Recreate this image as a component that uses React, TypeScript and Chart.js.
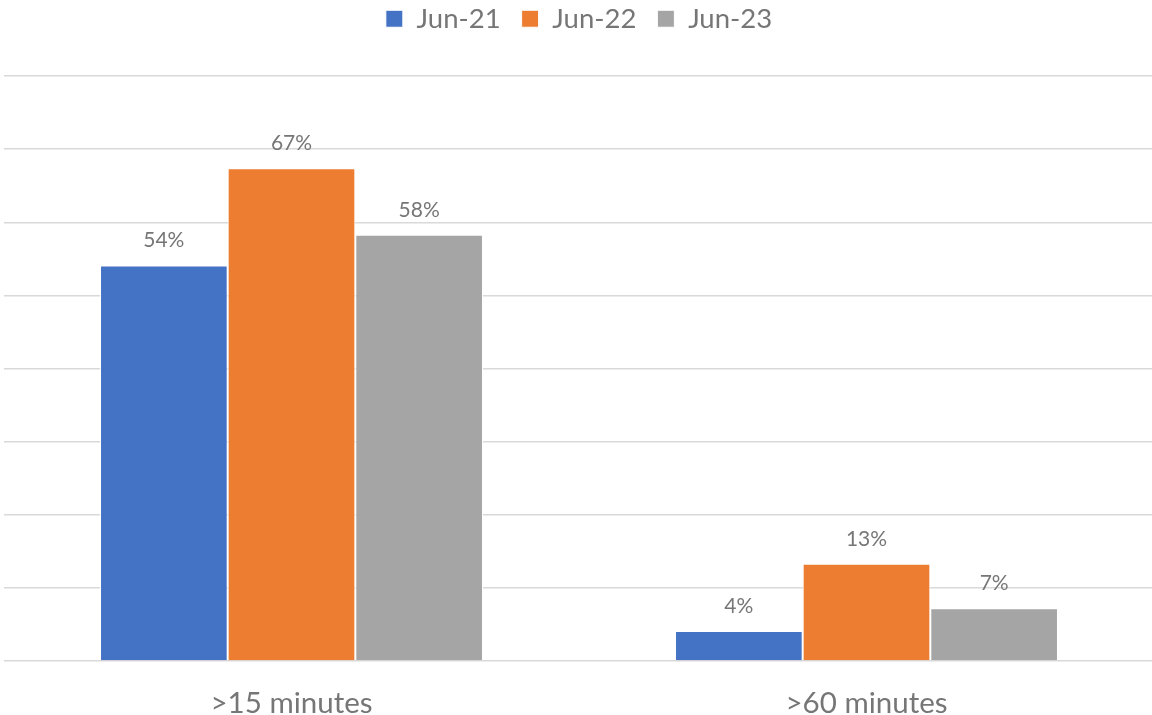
import React, { useEffect, useRef } from "react";
import { Chart, registerables } from "chart.js";

Chart.register(...registerables);

const categories = [">15 minutes", ">60 minutes"];
const seriesNames = ["Jun-21", "Jun-22", "Jun-23"];
const jun21 = [54.1, 4.1];
const jun22 = [67.4, 13.3];
const jun23 = [58.3, 7.2];
const colors = ["#4472C4", "#ED7D31", "#A5A5A5"];
const yTicks = [0, 10, 20, 30, 40, 50, 60, 70, 80];

const FONT = "Lato, 'Open Sans', sans-serif";
const TEXT = "#767676";

const dataLabelPlugin = {
  id: "dataLabels",
  afterDatasetsDraw(chart: any) {
    const ctx = chart.ctx;
    ctx.save();
    ctx.font = `21px ${FONT}`;
    ctx.fillStyle = TEXT;
    ctx.textAlign = "center";
    ctx.textBaseline = "alphabetic";
    chart.data.datasets.forEach((ds: any, i: number) => {
      const meta = chart.getDatasetMeta(i);
      meta.data.forEach((bar: any, j: number) => {
        const v = ds.data[j];
        ctx.fillText(Math.round(v) + "%", bar.x, bar.y - 18);
      });
    });
    ctx.restore();
  },
};

const legendSpacer = {
  id: "legendSpacer",
  afterInit(chart: any) {
    const lg = chart.legend;
    if (!lg) return;
    const orig = lg.fit;
    lg.fit = function () {
      orig.call(this);
      this.height += 33.5;
    };
  },
};

export default function App() {
  const ref = useRef<HTMLCanvasElement | null>(null);
  useEffect(() => {
    if (!ref.current) return;
    const series = [jun21, jun22, jun23];
    const chart = new Chart(ref.current, {
      type: "bar",
      data: {
        labels: categories,
        datasets: seriesNames.map((name, i) => ({
          label: name,
          data: series[i],
          backgroundColor: colors[i],
          borderColor: "#ffffff",
          borderWidth: 1,
          borderSkipped: "bottom",
          categoryPercentage: 0.666,
          barPercentage: 1.0,
        })),
      },
      options: {
        animation: false,
        responsive: true,
        maintainAspectRatio: false,
        layout: { padding: { left: 4, right: 2, top: -16, bottom: -31.5 } },
        plugins: {
          tooltip: { enabled: false },
          legend: {
            position: "top",
            labels: {
              boxWidth: 17,
              boxHeight: 17,
              padding: 21,
              color: TEXT,
              font: { family: FONT, size: 27.5, lineHeight: 1 },
            },
          },
        },
        scales: {
          x: {
            grid: { display: false, drawTicks: false },
            border: { display: false },
            ticks: {
              color: TEXT,
              padding: 28,
              font: { family: FONT, size: 29.5, lineHeight: 1 },
            },
          },
          y: {
            min: 0,
            max: 80,
            afterBuildTicks: (axis: any) => {
              axis.ticks = yTicks.map((v) => ({ value: v }));
            },
            grid: { color: "#d9d9d9", lineWidth: 1.5, drawTicks: false },
            border: { display: false },
            ticks: { display: false },
          },
        },
      },
      plugins: [dataLabelPlugin, legendSpacer],
    });
    return () => chart.destroy();
  }, []);
  return (
    <div style={{ position: "absolute", left: 0, top: 0, width: 1152, height: 715, overflow: "hidden", background: "#fff" }}>
      <div style={{ position: "relative", width: 1156, height: 715 }}>
        <canvas ref={ref} />
      </div>
    </div>
  );
}
